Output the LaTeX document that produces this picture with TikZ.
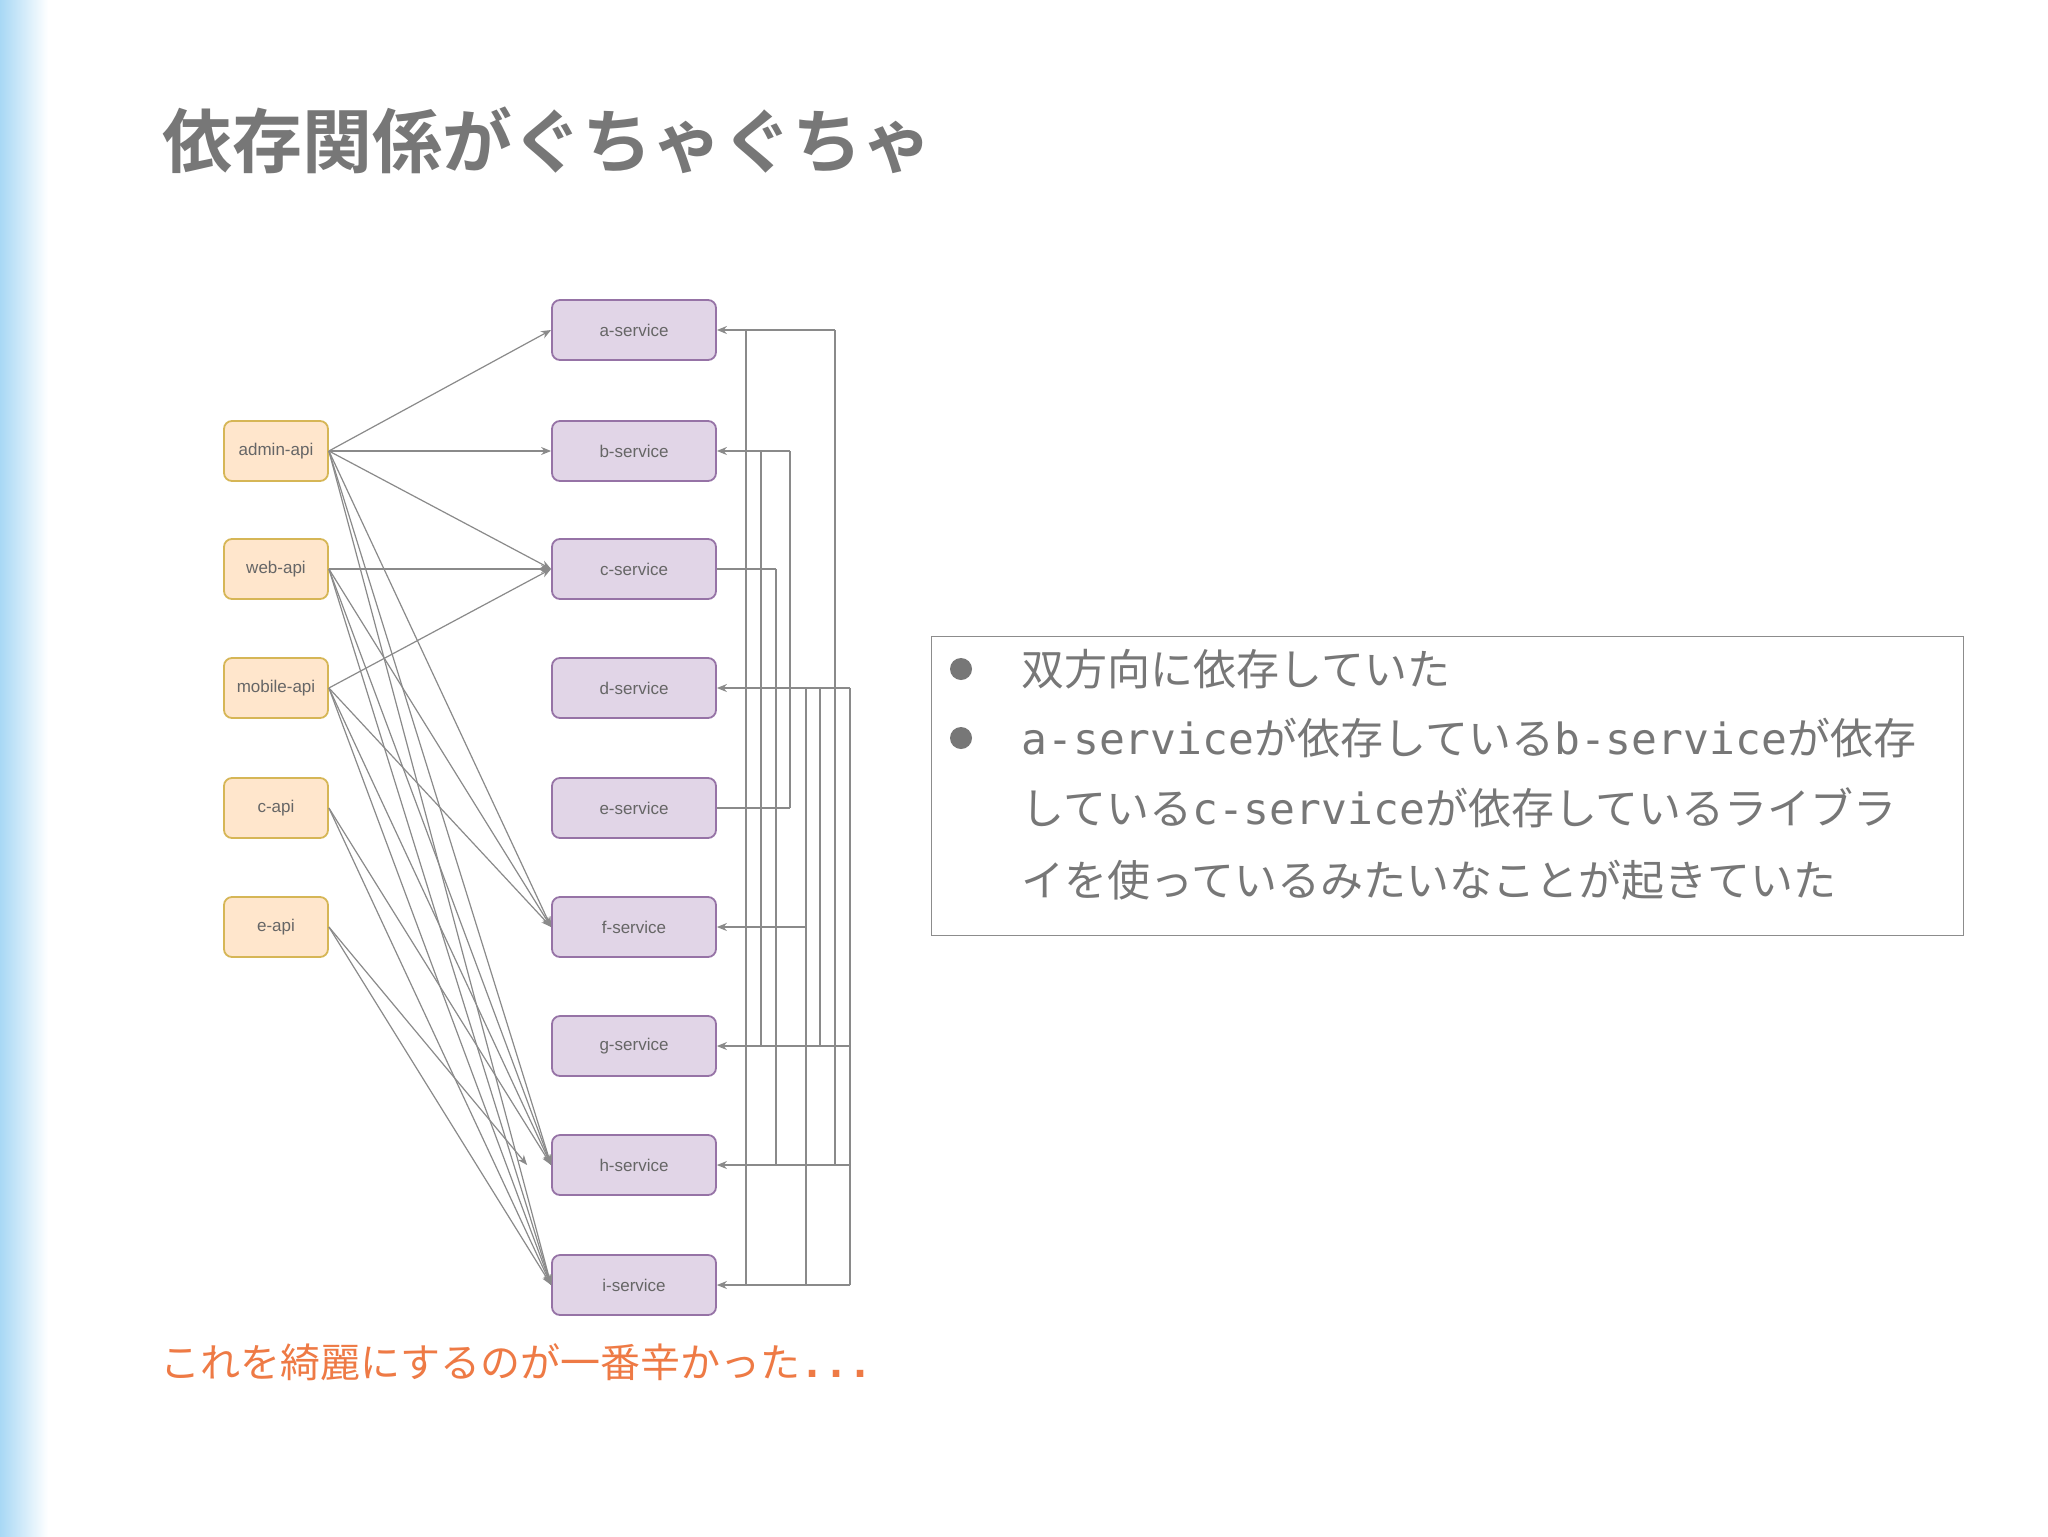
\documentclass[tikz,border=0pt]{standalone}
\usepackage{fontspec}
\setmainfont{Noto Sans CJK JP}
\newfontfamily\jpbold{Noto Sans CJK JP Bold}
\newfontfamily\lsans{Liberation Sans}
\newfontfamily\dmono{DejaVu Sans Mono}
\usetikzlibrary{arrows.meta}
\definecolor{txt}{HTML}{777777}
\definecolor{apifill}{HTML}{FFE6CC}\definecolor{apidraw}{HTML}{D6B656}
\definecolor{svfill}{HTML}{E1D5E7}\definecolor{svdraw}{HTML}{9673A6}
\definecolor{ln}{HTML}{8A8A8A}\definecolor{org}{HTML}{EE7A45}
\definecolor{band}{HTML}{A8D8F5}
\begin{document}
\begin{tikzpicture}[x=0.5pt,y=-0.5pt,
  api/.style={draw=apidraw,fill=apifill,rounded corners=4pt,minimum width=52pt,minimum height=30pt,inner sep=0pt,font=\lsans\fontsize{8.5}{9}\selectfont,text=black!60,line width=0.9pt},
  sv/.style={draw=svdraw,fill=svfill,rounded corners=4pt,minimum width=82pt,minimum height=30pt,inner sep=0pt,font=\lsans\fontsize{8.5}{9}\selectfont,text=black!60,line width=0.9pt},
  arr/.style={draw=ln,line width=0.6pt,-{Stealth[length=5pt,width=4pt]}},
  pl/.style={draw=ln,line width=0.6pt}]
\useasboundingbox (0,0) rectangle (2048,1536);
\fill[white] (0,0) rectangle (2048,1536);
\shade[left color=band,right color=white] (0,0) rectangle (48,1536);
\node[anchor=west,font=\jpbold\fontsize{35}{40}\selectfont,text=txt] (title) at (155,140) {依存関係がぐちゃぐちゃ};
% api nodes
\node[api] (admin) at (276,451) {admin-api};
\node[api] (web) at (276,569) {web-api};
\node[api] (mobile) at (276,688) {mobile-api};
\node[api] (capi) at (276,808) {c-api};
\node[api] (eapi) at (276,927) {e-api};
% services
\foreach \n/\y in {a/330,b/451,c/569,d/688,e/808,f/927,g/1046,h/1165,i/1285}
  \node[sv] (\n) at (634,\y) {\n-service};
% left edges
\foreach \t in {a,b,c,f,h,i} \draw[arr] (admin.east) -- (\t.west);
\foreach \t in {c,f,h,i} \draw[arr] (web.east) -- (\t.west);
\foreach \t in {c,f,h,i} \draw[arr] (mobile.east) -- (\t.west);
\foreach \t in {h,i} \draw[arr] (capi.east) -- (\t.west);
\draw[arr] (eapi.east) -- ([xshift=-12pt]h.west);
\draw[arr] (eapi.east) -- (i.west);
% right routing
\foreach \k/\x in {1/746,2/761,3/776,4/790,5/806,6/820,7/835,8/850}
  \foreach \n in {a,b,c,d,e,f,g,h,i} \coordinate (\n\k) at (\x,0 |- \n.east);
\draw[arr] (a7) -- (a.east);
\draw[arr] (b4) -- (b.east);
\draw[pl] (c.east) -- (c3);
\draw[arr] (d8) -- (d.east);
\draw[pl] (e.east) -- (e4);
\draw[arr] (f5) -- (f.east);
\draw[arr] (g8) -- (g.east);
\draw[arr] (h8) -- (h.east);
\draw[arr] (i8) -- (i.east);
\draw[pl] (a1) -- (i1);
\draw[pl] (b2) -- (g2);
\draw[pl] (c3) -- (h3);
\draw[pl] (b4) -- (e4);
\draw[pl] (d5) -- (i5);
\draw[pl] (d6) -- (g6);
\draw[pl] (a7) -- (h7);
\draw[pl] (d8) -- (i8);
% text box
\node[draw=black!45,line width=0.6pt,minimum width=516pt,minimum height=149.5pt,anchor=north west,inner sep=0pt] (box) at (931,636) {};
\begin{scope}[every node/.style={anchor=west,text=txt,font=\fontsize{21.5}{24}\selectfont,inner sep=0pt}]
\fill[txt] (961,669) circle (5.5pt);
\fill[txt] (961,738) circle (5.5pt);
\node (t1) at (1021,669) {双方向に依存していた};
\node (t2) at (1021,738) {{\dmono a-service}が依存している{\dmono b-service}が依存};
\node (t3) at (1021,808) {している{\dmono c-service}が依存しているライブラ};
\node (t4) at (1021,880) {イを使っているみたいなことが起きていた};
\end{scope}
\node[anchor=west,text=org,font=\fontsize{20}{22}\selectfont,inner sep=0pt] (note) at (160,1362) {これを綺麗にするのが一番辛かった{\dmono\bfseries ...}};
\end{tikzpicture}
\end{document}
